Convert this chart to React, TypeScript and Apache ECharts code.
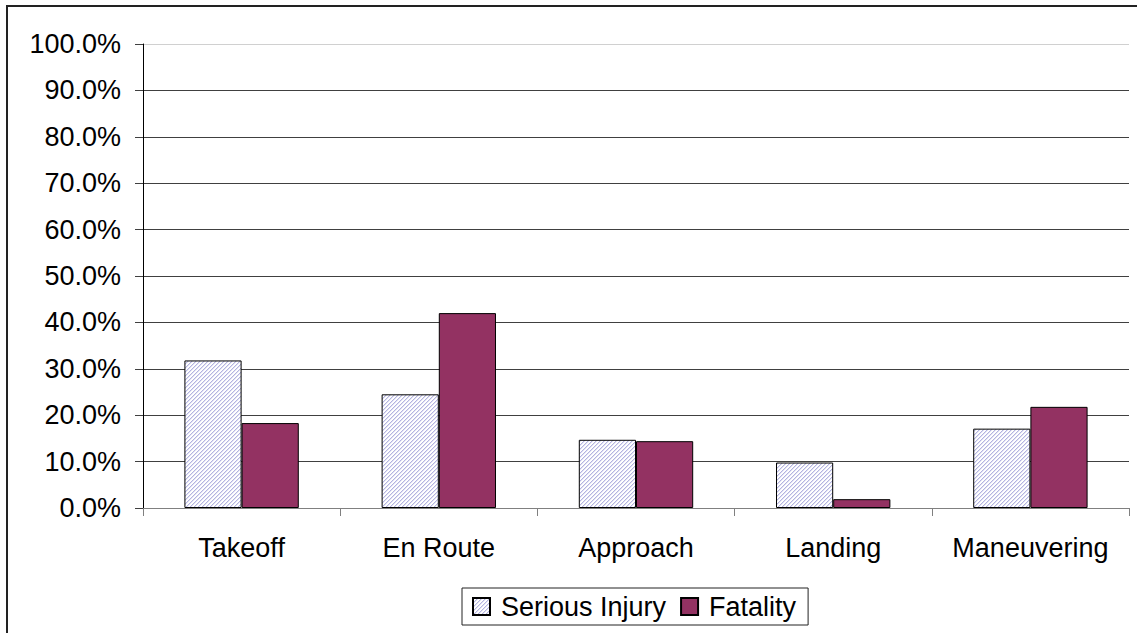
import React, { useEffect, useRef } from "react";
import * as echarts from "echarts";

const categories = ["Takeoff", "En Route", "Approach", "Landing", "Maneuvering"];
const seriousInjury = [31.8, 24.5, 14.7, 9.8, 17.1];
const fatality = [18.3, 42.0, 14.4, 1.9, 21.8];
const seriesNames = ["Serious Injury", "Fatality"];

function makeHatch(): HTMLCanvasElement {
  const c = document.createElement("canvas");
  const n = 4;
  c.width = n;
  c.height = n;
  const ctx = c.getContext("2d")!;
  ctx.fillStyle = "#ffffff";
  ctx.fillRect(0, 0, n, n);
  for (let x = 0; x < n; x++) {
    for (let y = 0; y < n; y++) {
      const k = (x + y) % n;
      if (k === 0) {
        ctx.fillStyle = "#b4b4e0";
        ctx.fillRect(x, y, 1, 1);
      } else if (k === 1) {
        ctx.fillStyle = "#e2e2f4";
        ctx.fillRect(x, y, 1, 1);
      }
    }
  }
  return c;
}

export default function App() {
  const ref = useRef<HTMLDivElement>(null);
  useEffect(() => {
    if (!ref.current) return;
    const chart = echarts.init(ref.current, null, { renderer: "svg" });
    const hatch = { image: makeHatch(), repeat: "repeat" } as any;
    const font = "Liberation Sans, Arial, sans-serif";
    const gridColors = ["#404040", "#404040", "#404040", "#404040", "#404040", "#404040", "#404040", "#404040", "#404040", "#404040", "#d0d0d0"];
    chart.setOption({
      animation: false,
      backgroundColor: "#ffffff",
      textStyle: { fontFamily: font },
      graphic: [
        {
          type: "rect",
          shape: { x: 7, y: 6, width: 1150, height: 650 },
          style: { fill: "none", stroke: "#222", lineWidth: 2 },
          silent: true,
        },
      ],
      grid: { left: 143, right: 8, top: 44, bottom: 125, containLabel: false },
      legend: {
        left: 462,
        top: 588,
        orient: "horizontal",
        data: seriesNames,
        itemWidth: 17,
        itemHeight: 17,
        itemGap: 14,
        borderColor: "#222",
        borderWidth: 1,
        borderRadius: 0,
        padding: [5, 12, 5, 10],
        icon: "rect",
        textStyle: { fontSize: 27, color: "#000", fontFamily: font, padding: [0, 0, 0, 6] },
      },
      xAxis: {
        type: "category",
        data: categories,
        axisLine: { lineStyle: { color: "#808080", width: 1 } },
        axisTick: { show: true, length: 8, lineStyle: { color: "#808080" } },
        axisLabel: { fontSize: 27, color: "#000", margin: 26, fontFamily: font, interval: 0 },
      },
      yAxis: {
        type: "value",
        min: 0,
        max: 100,
        interval: 10,
        axisLine: { show: true, lineStyle: { color: "#000", width: 1 } },
        axisTick: { show: true, length: 8, lineStyle: { color: "#404040" } },
        axisLabel: {
          fontSize: 27,
          color: "#000",
          margin: 22,
          fontFamily: font,
          formatter: (v: number) => v.toFixed(1) + "%",
        },
        splitLine: { show: true, lineStyle: { color: gridColors, width: 1 } },
      },
      series: [
        {
          name: seriesNames[0],
          type: "bar",
          data: seriousInjury,
          barGap: "0%",
          barCategoryGap: "42%",
          itemStyle: { color: hatch, borderColor: "#000", borderWidth: 1 },
        },
        {
          name: seriesNames[1],
          type: "bar",
          data: fatality,
          barGap: "0%",
          barCategoryGap: "42%",
          itemStyle: { color: "#933262", borderColor: "#000", borderWidth: 1 },
        },
      ],
    });
    return () => chart.dispose();
  }, []);
  return (
    <div
      ref={ref}
      style={{ position: "fixed", left: 0, top: 0, width: 1137, height: 633 }}
    />
  );
}
